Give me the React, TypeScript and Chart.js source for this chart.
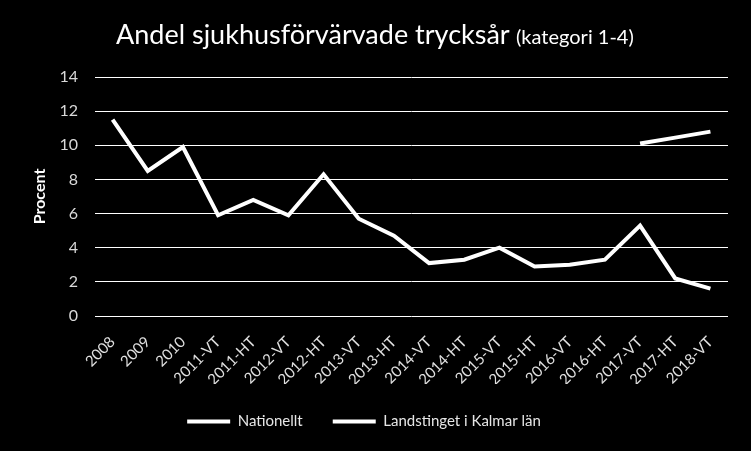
import React, { useEffect, useRef } from "react";
import { Chart, registerables } from "chart.js";

Chart.register(...registerables);

const categories = [
  "2008", "2009", "2010", "2011-VT", "2011-HT", "2012-VT", "2012-HT", "2013-VT", "2013-HT",
  "2014-VT", "2014-HT", "2015-VT", "2015-HT", "2016-VT", "2016-HT", "2017-VT", "2017-HT", "2018-VT",
];
const nationellt: (number | null)[] = [
  null, null, null, null, null, null, null, null, null, null, null, null, null, null, null, 10.1, 10.45, 10.8,
];
const kalmar: number[] = [11.5, 8.5, 9.9, 5.9, 6.8, 5.9, 8.3, 5.7, 4.7, 3.1, 3.3, 4.0, 2.9, 3.0, 3.3, 5.3, 2.2, 1.6];
const yTicks = [0, 2, 4, 6, 8, 10, 12, 14];

const FONT = "Lato, 'Open Sans', sans-serif";

export default function App() {
  const ref = useRef<HTMLCanvasElement | null>(null);
  useEffect(() => {
    if (!ref.current) return;
    const chart = new Chart(ref.current, {
      type: "line",
      data: {
        labels: categories,
        datasets: [
          {
            label: "Nationellt",
            data: nationellt,
            borderColor: "#ffffff",
            backgroundColor: "#ffffff",
            borderWidth: 4,
            pointRadius: 0,
            tension: 0,
            spanGaps: false,
          },
          {
            label: "Landstinget i Kalmar län",
            data: kalmar,
            borderColor: "#ffffff",
            backgroundColor: "#ffffff",
            borderWidth: 4,
            pointRadius: 0,
            tension: 0,
          },
        ],
      },
      options: {
        responsive: false,
        animation: false,
        devicePixelRatio: 1,
        layout: { padding: { top: 77, right: 23, bottom: 12, left: 0 } },
        plugins: {
          title: { display: false },
          tooltip: { enabled: false },
          legend: {
            position: "bottom",
            labels: {
              color: "#e6e6e6",
              font: { family: FONT, size: 15 },
              boxWidth: 43,
              boxHeight: 4,
              padding: 30,
              generateLabels: (c: any) =>
                Chart.defaults.plugins.legend.labels.generateLabels(c).map((l: any) => ({ ...l, lineWidth: 0 })),
            },
          },
        },
        scales: {
          x: {
            offset: true,
            afterFit: (s: any) => {
              s.height = 68;
            },
            grid: { display: false, drawTicks: false },
            border: { display: false },
            ticks: {
              color: "#e0e0e0",
              font: { family: FONT, size: 15 },
              minRotation: 45,
              maxRotation: 45,
              autoSkip: false,
              padding: 17,
            },
          },
          y: {
            min: 0,
            max: 14,
            afterFit: (s: any) => {
              s.width = 95;
            },
            afterBuildTicks: (s: any) => {
              s.ticks = yTicks.map((v) => ({ value: v }));
            },
            grid: { color: "#ffffff", lineWidth: 1, drawTicks: false },
            border: { display: false },
            ticks: {
              color: "#d9d9d9",
              font: { family: FONT, size: 16 },
              padding: 17,
            },
            title: {
              display: true,
              text: "Procent",
              color: "#ffffff",
              font: { family: FONT, size: 16, weight: "bold" },
              padding: { top: 30, bottom: 0 },
            },
          },
        },
      },
    });
    return () => chart.destroy();
  }, []);

  return (
    <div style={{ position: "fixed", left: 0, top: 0, width: 751, height: 451, background: "#000" }}>
      <canvas ref={ref} width={751} height={451} style={{ display: "block", width: 751, height: 451 }} />
      <div
        style={{
          position: "absolute",
          left: 116,
          top: 18,
          whiteSpace: "nowrap",
          color: "#ffffff",
          fontFamily: FONT,
          fontSize: 27,
          lineHeight: "32px",
        }}
      >
        Andel sjukhusförvärvade trycksår <span style={{ fontSize: 20 }}>(kategori 1-4)</span>
      </div>
    </div>
  );
}
